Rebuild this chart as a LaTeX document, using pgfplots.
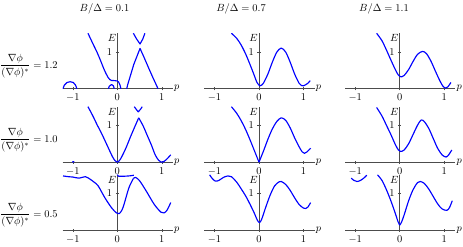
\documentclass[border=0pt]{standalone}
\usepackage{pgfplots}
\pgfplotsset{compat=1.18}
\pgfplotsset{panel/.style={
  x=42.72pt, y=35.52pt,
  xmin=-1.23, xmax=1.25, ymin=0, ymax=1.5,
  axis x line=bottom, axis y line=middle,
  axis line style={black!70, line width=0.6pt, -},
  every inner x axis line/.append style={-},
  every inner y axis line/.append style={-},
  every outer x axis line/.append style={-},
  hide obscured x ticks=false,
  xtick={-1,0,1}, ytick={1},
  xticklabels={$-1$,$0$,$1$},
  tick style={black!70, line width=0.5pt},
  major tick length=3pt,
  tick align=center,
  xlabel={$p$}, ylabel={$E$},
  every axis x label/.style={at={(axis cs:1.25,0)}, anchor=west, inner sep=1pt},
  every axis y label/.style={at={(axis cs:0,1.5)}, anchor=north east, inner sep=1pt},
  anchor=south west,
  clip=true,
},
crv/.style={blue, line width=1.1pt, mark=none, line join=round}}
\begin{document}
\begin{tikzpicture}
\useasboundingbox (0,0) rectangle (444.48pt,237.12pt);
% titles
\node at (100.3pt,229pt) {$B/\Delta = 0.1$};
\node at (231.4pt,229pt) {$B/\Delta = 0.7$};
\node at (368.6pt,229pt) {$B/\Delta = 1.1$};
% row labels
\node[anchor=west, inner sep=0pt] at (0pt,173.8pt) {$\displaystyle\frac{\nabla\phi}{(\nabla\phi)^*}=1.2$};
\node[anchor=west, inner sep=0pt] at (0pt,102.7pt) {$\displaystyle\frac{\nabla\phi}{(\nabla\phi)^*}=1.0$};
\node[anchor=west, inner sep=0pt] at (0pt,30.7pt) {$\displaystyle\frac{\nabla\phi}{(\nabla\phi)^*}=0.5$};

% ---------- row 1 ----------
\begin{axis}[panel, at={(60.1pt,151.9pt)}]
\addplot[crv,smooth] coordinates {(-1.22,0)(-1.19,0.1)(-1.13,0.17)(-1.06,0.19)(-0.99,0.17)(-0.94,0.1)(-0.91,0.0)};
\addplot[crv,smooth] coordinates {(-0.66,1.5)(-0.55,1.22)(-0.45,0.97)(-0.38,0.77)(-0.3,0.53)(-0.25,0.4)(-0.21,0.31)(-0.17,0.25)(-0.13,0.225)(-0.06,0.22)(0.0,0.21)(0.03,0.18)(0.06,0.1)(0.08,0.0)};
\addplot[crv,smooth] coordinates {(-0.2,0)(-0.18,0.07)(-0.13,0.115)(-0.09,0.08)(-0.07,0)};
\addplot[crv] coordinates {(0.21,0)(0.23,0.1)(0.26,0.22)(0.37,0.66)(0.51,1.09)(0.6,0.85)(0.7,0.57)(0.8,0.3)(0.915,0)};
\addplot[crv] coordinates {(0.36,1.5)(0.43,1.35)(0.51,1.21)(0.57,1.34)(0.62,1.5)};
\end{axis}
\begin{axis}[panel, at={(196.1pt,151.9pt)}]
\addplot[crv,smooth] coordinates {(-0.62,1.5)(-0.5,1.36)(-0.4,1.18)(-0.3,0.94)(-0.2,0.65)(-0.1,0.34)(-0.05,0.18)(0,0.1)(0.02,0.08)(0.06,0.1)(0.1,0.15)(0.2,0.4)(0.3,0.72)(0.4,0.99)(0.5,1.1)(0.6,0.99)(0.7,0.72)(0.8,0.4)(0.9,0.15)(0.95,0.09)(1.0,0.08)(1.05,0.11)(1.1,0.15)(1.15,0.22)};
\end{axis}
\begin{axis}[panel, at={(331.2pt,151.9pt)}]
\addplot[crv,smooth] coordinates {(-0.52,1.5)(-0.4,1.3)(-0.3,1.05)(-0.2,0.78)(-0.1,0.52)(-0.03,0.37)(0.04,0.32)(0.1,0.36)(0.2,0.52)(0.3,0.74)(0.4,0.93)(0.51,1.01)(0.6,0.95)(0.7,0.75)(0.8,0.48)(0.9,0.22)(0.97,0.07)(1.03,0.02)(1.08,0.05)(1.15,0.17)};
\end{axis}

% ---------- row 2 ----------
\begin{axis}[panel, at={(60.1pt,81.4pt)}]
\addplot[crv] coordinates {(-1.01,0)(-0.99,0.02)(-0.97,0)};
\addplot[crv,smooth] coordinates {(-0.66,1.5)(-0.55,1.25)(-0.45,1.0)(-0.38,0.84)(-0.3,0.64)(-0.2,0.38)(-0.11,0.15)(-0.05,0.04)(0,0)(0.05,0.05)(0.1,0.15)(0.19,0.375)(0.3,0.7)(0.4,0.98)(0.48,1.2)};
\addplot[crv,smooth] coordinates {(0.48,1.2)(0.58,0.98)(0.67,0.73)(0.77,0.45)(0.85,0.2)(0.93,0.05)(1.01,0)(1.1,0.07)(1.2,0.2)};
\addplot[crv] coordinates {(0.38,1.5)(0.43,1.42)(0.47,1.36)(0.52,1.43)(0.56,1.5)};
\end{axis}
\begin{axis}[panel, at={(196.1pt,81.4pt)}]
\addplot[crv,smooth] coordinates {(-0.62,1.5)(-0.5,1.32)(-0.4,1.12)(-0.3,0.88)(-0.2,0.6)(-0.1,0.3)(0,0.0)};
\addplot[crv,smooth] coordinates {(0,0)(0.1,0.3)(0.2,0.62)(0.3,0.9)(0.4,1.1)(0.5,1.2)(0.6,1.13)(0.7,0.93)(0.8,0.66)(0.9,0.42)(0.97,0.28)(1.02,0.24)(1.08,0.28)(1.16,0.38)};
\end{axis}
\begin{axis}[panel, at={(331.2pt,81.4pt)}]
\addplot[crv,smooth] coordinates {(-0.52,1.48)(-0.4,1.25)(-0.3,1.0)(-0.2,0.75)(-0.1,0.48)(-0.03,0.33)(0.02,0.29)(0.1,0.33)(0.2,0.5)(0.3,0.75)(0.4,1.0)(0.48,1.14)(0.55,1.1)(0.65,0.92)(0.75,0.65)(0.85,0.38)(0.95,0.2)(1.04,0.14)(1.1,0.2)(1.17,0.33)};
\end{axis}

% ---------- row 3 ----------
\begin{axis}[panel, at={(60.1pt,16.0pt)}]
\addplot[crv,smooth] coordinates {(-1.22,1.47)(-1.1,1.45)(-1.0,1.44)(-0.86,1.41)(-0.72,1.45)(-0.61,1.38)(-0.52,1.3)(-0.43,1.2)(-0.28,0.88)(-0.13,0.61)(-0.02,0.47)(0.04,0.45)(0.1,0.54)(0.15,0.7)(0.26,1.15)(0.36,1.4)};
\addplot[crv,smooth] coordinates {(0.36,1.4)(0.41,1.43)(0.5,1.34)(0.65,1.06)(0.83,0.7)(0.98,0.49)(1.05,0.47)(1.12,0.55)(1.2,0.75)};
\addplot[crv,smooth] coordinates {(0,1.5)(0.03,1.46)(0.1,1.46)(0.2,1.465)(0.3,1.475)(0.37,1.49)};
\end{axis}
\begin{axis}[panel, at={(196.1pt,16.0pt)}]
\addplot[crv,smooth] coordinates {(-1.11,1.5)(-1.05,1.4)(-0.98,1.33)(-0.9,1.35)(-0.8,1.43)(-0.7,1.47)(-0.62,1.45)(-0.5,1.3)(-0.4,1.12)(-0.3,0.93)(-0.2,0.7)(-0.1,0.45)(-0.04,0.28)(0.01,0.21)(0.06,0.3)(0.15,0.62)(0.25,0.95)(0.35,1.2)(0.45,1.31)(0.5,1.32)(0.6,1.24)(0.7,1.08)(0.8,0.88)(0.9,0.7)(1.0,0.6)(1.05,0.59)(1.1,0.63)(1.16,0.75)};
\end{axis}
\begin{axis}[panel, at={(331.2pt,16.0pt)}]
\addplot[crv,smooth] coordinates {(-1.09,1.41)(-1.03,1.35)(-0.96,1.32)(-0.88,1.35)(-0.8,1.42)(-0.74,1.49)};
\addplot[crv,smooth] coordinates {(-0.5,1.5)(-0.4,1.35)(-0.3,1.1)(-0.2,0.8)(-0.1,0.46)(-0.04,0.24)(0,0.14)};
\addplot[crv,smooth] coordinates {(0,0.14)(0.04,0.22)(0.1,0.42)(0.2,0.8)(0.3,1.1)(0.4,1.29)(0.46,1.32)(0.55,1.27)(0.65,1.12)(0.75,0.92)(0.85,0.72)(0.95,0.58)(1.06,0.54)(1.12,0.62)(1.18,0.8)};
\end{axis}
\end{tikzpicture}
\end{document}
